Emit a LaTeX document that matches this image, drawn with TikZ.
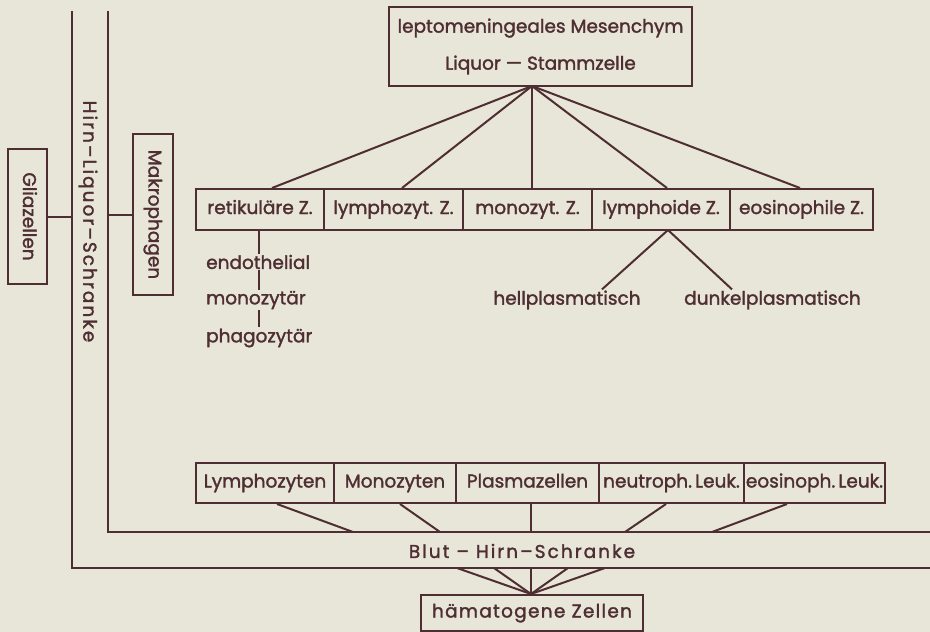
\documentclass[tikz,border=0pt]{standalone}
\usepackage{fontspec}
\setmainfont{Poppins}[BoldFont={Poppins}, BoldFeatures={FakeBold=1.6}]
\definecolor{ink}{RGB}{78,46,50}
\definecolor{paper}{RGB}{232,230,217}
\newcommand{\wide}[1]{{\addfontfeature{LetterSpace=11}#1}}
\begin{document}
\begin{tikzpicture}[x=1pt,y=-1pt,
  every node/.style={text=ink, font=\bfseries\fontsize{18.5}{22}\selectfont},
  box/.style={draw=ink, line width=2pt, inner sep=0pt},
  rowbox/.style={box, text height=13pt, text depth=4pt},
  conn/.style={draw=ink, line width=2pt},
  lbl/.style={inner sep=1pt}]
\fill[paper] (0,0) rectangle (930,632);
\useasboundingbox (0,0) rectangle (930,632);

% barrier lines
\coordinate (oTop) at (72,11);
\coordinate (oCorner) at (72,568);
\coordinate (oRight) at (930,568);
\coordinate (iTop) at (108,11);
\coordinate (iCorner) at (108,532);
\coordinate (iRight) at (930,532);
\draw[conn] (oTop) -- (oCorner) -- (oRight);
\draw[conn] (iTop) -- (iCorner) -- (iRight);
\node[lbl, rotate=-90] (hls) at (88,221.5) {\wide{Hirn–Liquor–Schranke}};
\node[lbl] (bhs) at (522,551) {\wide{Blut – Hirn–Schranke}};

% side boxes
\node[rowbox, rotate=-90, minimum width=135pt, minimum height=39pt] (glia) at (27.5,216.5) {Gliazellen};
\node[rowbox, rotate=-90, minimum width=161pt, minimum height=40pt] (mak) at (153,214.5) {Makrophagen};
\draw[conn] (glia.north) -- (glia.north -| oTop);
\draw[conn] (mak.south) -- (mak.south -| iTop);

% top box
\node[box, minimum width=303pt, minimum height=79pt, align=center,
      font=\bfseries\fontsize{18.5}{37}\selectfont] (stamm) at (540.5,46.5)
      {leptomeningeales Mesenchym\\Liquor — Stammzelle};
\coordinate (f1) at (532,86);

% upper row
\node[rowbox, minimum width=128pt, minimum height=41pt] (ret) at (260,209.5) {retikuläre Z.};
\node[rowbox, minimum width=139pt, minimum height=41pt] (lyz) at (393.5,209.5) {lymphozyt. Z.};
\node[rowbox, minimum width=129pt, minimum height=41pt] (moz) at (527.5,209.5) {monozyt. Z.};
\node[rowbox, minimum width=138pt, minimum height=41pt] (lyd) at (661,209.5) {lymphoide Z.};
\node[rowbox, minimum width=143pt, minimum height=41pt] (eos) at (801.5,209.5) {eosinophile Z.};
\draw[conn] (f1) -- ([xshift=12pt]ret.north);
\draw[conn] (f1) -- ([xshift=8.5pt]lyz.north);
\draw[conn] (f1) -- (f1 |- moz.north);
\draw[conn] (f1) -- ([xshift=6pt]lyd.north);
\draw[conn] (f1) -- ([xshift=-1.5pt]eos.north);

% retikulaere subtypes
\node[lbl, anchor=west] (endo) at (205,262) {endothelial};
\node[lbl, anchor=west] (mono) at (205,300) {monozytär};
\node[lbl, anchor=west] (phag) at (205,338) {phagozytär};
\draw[conn] ([xshift=-1pt]ret.south) -- ([xshift=-1pt]ret.south |- endo.north);
\draw[conn] ([xshift=-1pt]ret.south |- endo.south) -- ([xshift=-1pt]ret.south |- mono.north);
\draw[conn] ([xshift=-1pt]ret.south |- mono.south) -- ([xshift=-1pt]ret.south |- phag.north);

% lymphoide subtypes
\node[lbl] (hell) at (567,300) {hellplasmatisch};
\node[lbl] (dunk) at (772.5,300) {dunkelplasmatisch};
\coordinate (f2) at (668,230);
\draw[conn] (f2) -- ([xshift=35pt]hell.north);
\draw[conn] (f2) -- ([xshift=-40.5pt]dunk.north);

% lower row
\node[rowbox, minimum width=138pt, minimum height=40pt] (lym) at (265,483) {Lymphozyten};
\node[rowbox, minimum width=122pt, minimum height=40pt] (mon) at (395,483) {Monozyten};
\node[rowbox, minimum width=143pt, minimum height=40pt] (pla) at (527.5,483) {Plasmazellen};
\node[rowbox, minimum width=145pt, minimum height=40pt] (neu) at (671.5,483) {neutroph.\,Leuk.};
\node[rowbox, minimum width=141pt, minimum height=40pt] (eol) at (814.5,483) {eosinoph.\,Leuk.};
\coordinate (b1) at (353,532);
\coordinate (b2) at (440,532);
\coordinate (b3) at (531,532);
\coordinate (b4) at (625,532);
\coordinate (b5) at (712,532);
\draw[conn] ([xshift=12pt]lym.south) -- (b1);
\draw[conn] ([xshift=5pt]mon.south) -- (b2);
\draw[conn] (b3 |- pla.south) -- (b3);
\draw[conn] ([xshift=-5.5pt]neu.south) -- (b4);
\draw[conn] ([xshift=-27.5pt]eol.south) -- (b5);

% haematogene
\node[rowbox, minimum width=222pt, minimum height=36pt] (ham) at (532,613) {{\addfontfeature{LetterSpace=7}hämatogene Zellen}};
\coordinate (c1) at (457,568);
\coordinate (c2) at (494,568);
\coordinate (c3) at (531,568);
\coordinate (c4) at (568,568);
\coordinate (c5) at (605,568);
\foreach \c in {c1,c2,c3,c4,c5} \draw[conn] (\c) -- ([xshift=-1pt]ham.north);
\end{tikzpicture}
\end{document}
